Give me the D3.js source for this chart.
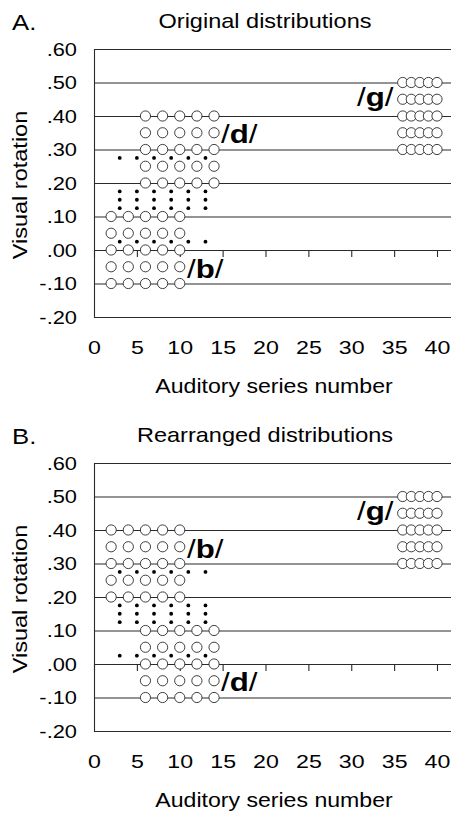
<!DOCTYPE html>
<html>
<head>
<meta charset="utf-8">
<script src="https://cdn.jsdelivr.net/npm/d3@7"></script>
<style>
  body { margin: 0; background: #fff; }
  svg text { font-family: "Liberation Sans", Arial, sans-serif; fill: #000; }
</style>
</head>
<body>
<div id="chart"></div>
<script>
// Chart data
const xTicks = [0, 5, 10, 15, 20, 25, 30, 35, 40];
const yTicks = [-0.20, -0.10, 0.00, 0.10, 0.20, 0.30, 0.40, 0.50, 0.60];

// training categories (auditory series x visual rotation)
const bSeries = [2, 4, 6, 8, 10];
const dSeries = [6, 8, 10, 12, 14];
const gSeries = [36, 37, 38, 39, 40];
const gRotations = [0.30, 0.35, 0.40, 0.45, 0.50];
const bRotationsA = [-0.10, -0.05, 0.00, 0.05, 0.10];
const dRotationsA = [0.20, 0.25, 0.30, 0.35, 0.40];
const bRotationsB = [0.20, 0.25, 0.30, 0.35, 0.40];
const dRotationsB = [-0.10, -0.05, 0.00, 0.05, 0.10];

// test stimuli (small dots)
const testSeries = [3, 5, 7, 9, 11, 13];
const testRotations = [0.025, 0.125, 0.15, 0.175, 0.275];

const panels = [
    { letter: "A.", title: "Original distributions", bRot: bRotationsA, dRot: dRotationsA,
      bLabel: [187, -0.05], dLabel: [221, 0.35] },
    { letter: "B.", title: "Rearranged distributions", bRot: bRotationsB, dRot: dRotationsB,
      bLabel: [187, 0.35], dLabel: [221, -0.05] }
];

const width = 451, height = 813;

const svg = d3.select("#chart").append("svg")
    .attr("width", width)
    .attr("height", height);

const x = d3.scaleLinear().domain([0, 40]).range([94, 437]);
const xRight = 451;

function grid(pts) {
    const out = [];
    pts.s.forEach(s => pts.r.forEach(r => out.push([s, r])));
    return out;
}

// widen glyphs along the baseline (the original font is wider than Arial)
function stretchText(sel, k) {
    sel.each(function() {
        const t = d3.select(this);
        const tx = +t.attr("x") || 0;
        t.attr("x", tx / k).attr("transform", "scale(" + k + ",1)");
    });
}

const fmt = v => (v < 0 ? "-" : "") + Math.abs(v).toFixed(2).replace(/^0/, "");

panels.forEach((p, i) => {
    const off = i * 414;
    const y = d3.scaleLinear().domain([-0.2, 0.6]).range([317 + off, 49 + off]);
    const g = svg.append("g");

    // gridlines + left axis line
    g.append("g")
        .attr("transform", "translate(94,0)")
        .call(d3.axisLeft(y).tickValues(yTicks).tickSize(-(xRight - 94)).tickFormat(""))
        .call(a => a.selectAll("line").attr("stroke", "#2a2a2a").attr("stroke-width", 1.1))
        .call(a => a.select(".domain").attr("stroke", "#2a2a2a").attr("stroke-width", 1.1));

    // y tick labels
    g.append("g")
        .attr("transform", "translate(94,0)")
        .call(d3.axisLeft(y).tickValues(yTicks).tickSize(0).tickPadding(17).tickFormat(fmt))
        .call(a => a.select(".domain").remove())
        .call(a => a.selectAll("text").attr("font-size", 19).attr("font-family", null))
        .call(a => a.selectAll("text").call(stretchText, 1.15));

    // x ticks on the zero line
    g.append("g")
        .attr("transform", "translate(0," + y(0) + ")")
        .call(d3.axisBottom(x).tickValues(xTicks).tickSize(7).tickFormat(""))
        .call(a => a.select(".domain").remove())
        .call(a => a.selectAll("line").attr("stroke", "#2a2a2a").attr("stroke-width", 1.1));

    // x tick labels under the plot
    g.append("g")
        .attr("transform", "translate(0," + y(-0.2) + ")")
        .call(d3.axisBottom(x).tickValues(xTicks).tickSize(0).tickPadding(24))
        .call(a => a.select(".domain").remove())
        .call(a => a.selectAll("text").attr("font-size", 19).attr("font-family", null))
        .call(a => a.selectAll("text").call(stretchText, 1.22));

    // training circles
    const circles = grid({ s: bSeries, r: p.bRot })
        .concat(grid({ s: dSeries, r: p.dRot }))
        .concat(grid({ s: gSeries, r: gRotations }));
    g.selectAll(".stim").data(circles).enter().append("circle")
        .attr("class", "stim")
        .attr("cx", d => x(d[0]))
        .attr("cy", d => y(d[1]))
        .attr("r", 5.1)
        .attr("fill", "#fff")
        .attr("stroke", "#2a2a2a")
        .attr("stroke-width", 0.9);

    // test dots
    g.selectAll(".test").data(grid({ s: testSeries, r: testRotations })).enter().append("circle")
        .attr("class", "test")
        .attr("cx", d => x(d[0]))
        .attr("cy", d => y(d[1]))
        .attr("r", 1.9)
        .attr("fill", "#000");

    // phoneme labels
    const phon = [["b", p.bLabel[0], y(p.bLabel[1]) + 11],
                  ["d", p.dLabel[0], y(p.dLabel[1]) + 10],
                  ["g", 357, y(0.45) + 7]];
    phon.forEach(ph => {
        const t = g.append("text")
            .attr("transform", "translate(" + ph[1] + "," + ph[2] + ") scale(1.2,1)")
            .attr("font-size", 26);
        t.append("tspan").text("/");
        t.append("tspan").attr("font-weight", "bold").text(ph[0]);
        t.append("tspan").text("/");
    });

    // panel letter and title
    g.append("text")
        .attr("transform", "translate(12," + (30 + off) + ") scale(1.12,1)")
        .attr("font-size", 23)
        .text(p.letter);
    g.append("text")
        .attr("transform", "translate(265," + (28 + off) + ") scale(1.12,1)")
        .attr("text-anchor", "middle")
        .attr("font-size", 21)
        .text(p.title);

    // axis titles
    g.append("text")
        .attr("transform", "translate(274," + (393 + off) + ") scale(1.1,1)")
        .attr("text-anchor", "middle")
        .attr("font-size", 21)
        .text("Auditory series number");
    g.append("text")
        .attr("transform", "translate(27," + (185 + off) + ") rotate(-90) scale(1.12,1)")
        .attr("text-anchor", "middle")
        .attr("font-size", 21)
        .text("Visual rotation");
});
</script>
</body>
</html>
